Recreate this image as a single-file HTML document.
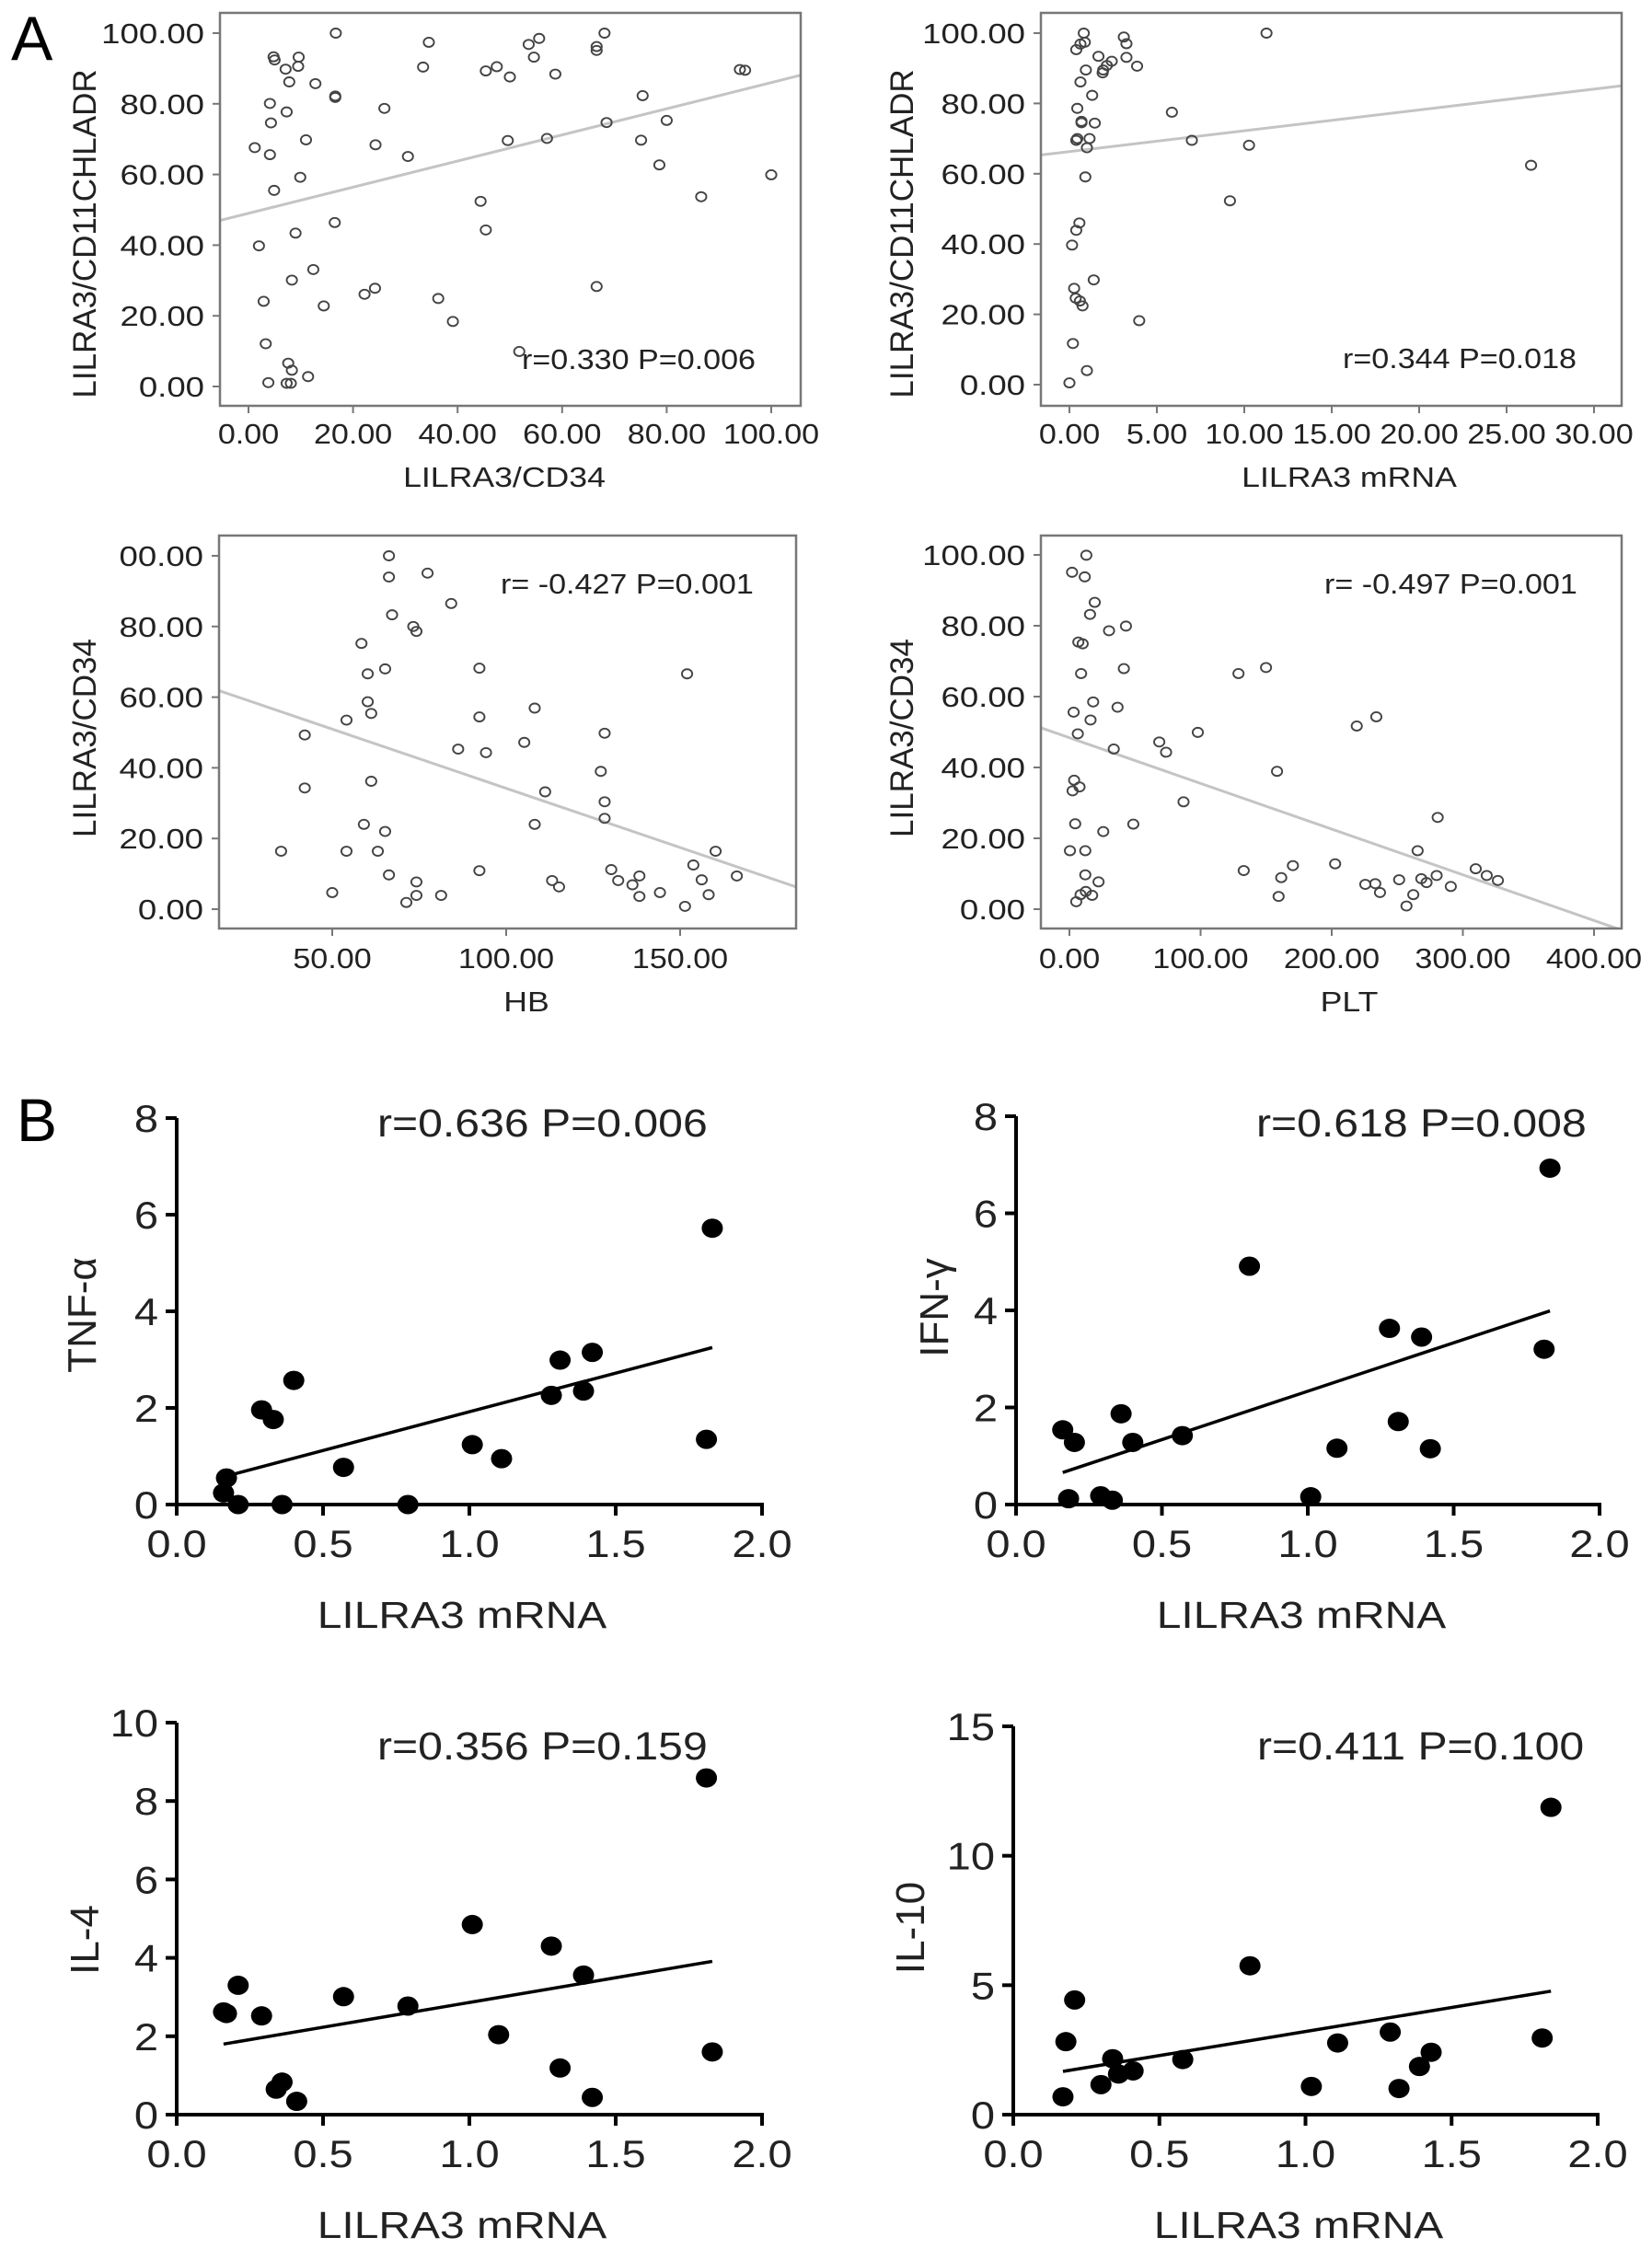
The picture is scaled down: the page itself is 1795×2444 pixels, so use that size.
<!DOCTYPE html>
<html><head><meta charset="utf-8"><style>
html,body{margin:0;padding:0;background:#fff;}
svg{display:block;font-family:"Liberation Sans",Arial,sans-serif;}
</style></head><body>
<svg id="fig" xmlns="http://www.w3.org/2000/svg" width="1795" height="2444" viewBox="0 0 1795 2444">
<rect width="1795" height="2444" fill="#fff"/>
<text transform="translate(12,65)" font-size="68">A</text>
<text transform="translate(18,1240)" font-size="66">B</text>
</svg>
<script>
// ===== Panel A1 data =====
const a1X = [1.2,2.0,2.9,3.3,3.8,4.1,4.3,4.1,4.8,5.0,4.9,7.1,7.3,7.8,7.3,8.1,7.6,8.3,8.3,9.0,9.5,9.6,9.9,11.0,11.4,12.4,12.8,14.4,16.7,16.6,16.6,16.5,22.2,24.2,24.3,26.0,30.5,33.4,34.5,36.3,39.1,44.4,45.4,45.4,47.5,49.6,50.0,51.8,53.6,54.6,55.6,57.1,58.7,66.6,66.6,68.1,68.5,66.6,75.1,75.4,78.6,80.0,86.6,94.0,95.0,100];
const a1Y = [67.6,39.8,24.1,12.1,1.1,80.1,74.6,65.6,93.3,92.4,55.5,89.8,77.7,86.2,0.9,0.9,6.6,4.6,30.1,43.4,90.6,93.2,59.2,69.8,2.8,33.1,85.7,22.8,100,82.2,81.8,46.4,26.1,27.8,68.4,78.7,65.1,90.4,97.4,24.9,18.4,52.4,89.3,44.3,90.5,69.6,87.6,9.9,96.8,93.2,98.5,70.2,88.4,96.2,95.1,100,74.7,28.3,69.7,82.3,62.7,75.3,53.7,89.7,89.5,59.9];
const a1Fit = [49.0, 0.37];
const a1XTicks = [0,20,40,60,80,100];
const a1YTicks = [0,20,40,60,80,100];
// ===== Panel A2 data =====
const a2X = [0,0.15,0.2,0.27,0.36,0.39,0.39,0.45,0.39,0.45,0.57,0.6,0.63,0.63,0.69,0.69,0.75,0.82,0.88,0.91,0.94,1.0,1.0,1.15,1.3,1.39,1.45,1.66,1.9,1.93,2.14,2.42,3.11,3.26,3.26,3.87,3.99,5.86,7.0,9.18,10.27,11.27,26.4];
const a2Y = [0.5,39.7,11.7,27.4,24.6,95.3,43.9,78.6,69.5,70.0,46.0,23.8,86.1,96.9,74.9,74.5,22.4,100,97.4,59.1,89.5,67.4,4.0,70.0,82.3,29.8,74.4,93.4,88.7,89.5,90.8,92.0,98.9,97.0,93.1,90.6,18.2,77.5,69.5,52.3,68.1,100,62.4];
const a2Fit = [66.3, 0.593];
const a2XTicks = [0,5,10,15,20,25,30];
const a2YTicks = [0,20,40,60,80,100];
// ===== Panel A3 data =====
const a3X = [35.3,42.1,42.1,50,54.1,54.1,58.4,59.1,60.2,60.2,61.2,61.2,63.1,65.2,65.2,66.3,66.3,66.3,67.2,71.3,73.3,74.2,74.2,74.2,77.4,81.3,84.2,86.2,92.3,92.3,92.3,94.2,105.2,108.2,108.2,111.2,113.2,115.2,127.2,128.3,128.3,128.3,130.2,132.2,136.3,138.3,138.3,144.2,151.4,152.0,153.8,156.2,158.2,160.2,166.3];
const a3Y = [16.4,49.3,34.3,4.7,53.5,16.4,75.2,24.0,66.6,58.7,55.4,36.2,16.4,68.0,22.0,100,94.0,9.7,83.3,1.9,80.0,78.6,7.7,3.9,95.1,3.9,86.5,45.3,68.2,54.4,10.9,44.3,47.2,56.9,24.0,33.2,8.1,6.3,39.0,49.8,30.4,25.7,11.2,8.1,6.9,9.4,3.6,4.7,0.8,66.6,12.5,8.3,4.1,16.4,9.4];
const a3Fit = [67.7, -0.335];
const a3XTicks = [50,100,150];
const a3YTicks = [0,20,40,60,80,100];
// ===== Panel A4 data =====
const a4X = [0.4,2.0,3.2,2.4,3.6,4.4,6.4,6.8,7.7,5.2,8.5,8.9,10.1,11.7,12.1,12.1,12.5,12.9,15.7,16.1,17.3,18.1,19.3,22.2,25.8,30.2,33.8,36.7,41.5,43.1,48.7,68.5,73.7,87.0,97.9,128.9,132.9,149.9,158.3,159.5,161.5,170.4,202.6,219.1,225.6,233.2,234.0,236.8,251.4,257.0,262.2,265.5,268.3,272.3,280.0,280.8,290.8,309.8,318.2,326.7];
const a4Y = [16.5,95.1,55.6,33.4,36.4,24.1,49.5,75.4,34.5,2.1,4.1,66.5,74.9,93.8,16.5,9.7,5.0,99.9,83.2,53.4,3.9,58.5,86.6,7.7,21.9,78.6,45.2,57.0,67.9,79.9,24.0,47.2,44.3,30.3,49.9,66.5,10.9,68.2,38.9,3.6,8.9,12.3,12.8,51.7,7.0,7.2,54.3,4.7,8.3,0.9,4.1,16.5,8.6,7.5,9.5,25.9,6.4,11.4,9.5,8.1];
const a4Fit = [48.4, -0.129];
const a4XTicks = [0,100,200,300,400];
const a4YTicks = [0,20,40,60,80,100];
// ===== Panel B data =====
const b1X = [0.16,0.17,0.21,0.29,0.33,0.40,0.36,0.57,0.79,1.01,1.11,1.28,1.31,1.39,1.42,1.81,1.83];
const b1Y = [0.24,0.55,0,1.96,1.76,2.57,0,0.77,0,1.24,0.95,2.26,2.99,2.35,3.15,1.35,5.72];
const b1Fit = [0.17,0.59,1.83,3.25];
const b2X = [0.16,0.18,0.20,0.29,0.33,0.36,0.40,0.57,0.80,1.01,1.10,1.28,1.31,1.39,1.42,1.81,1.83];
const b2Y = [1.54,0.12,1.28,0.18,0.09,1.87,1.28,1.42,4.91,0.16,1.16,3.63,1.71,3.45,1.15,3.2,6.93];
const b2Fit = [0.16,0.66,1.83,3.99];
const b3X = [0.16,0.17,0.21,0.29,0.34,0.36,0.41,0.57,0.79,1.01,1.10,1.28,1.31,1.39,1.42,1.81,1.83];
const b3Y = [2.62,2.58,3.30,2.52,0.65,0.83,0.34,3.01,2.77,4.85,2.04,4.30,1.19,3.56,0.44,8.59,1.60];
const b3Fit = [0.16,1.80,1.83,3.91];
const b4X = [0.17,0.18,0.21,0.30,0.34,0.36,0.41,0.58,0.81,1.02,1.11,1.29,1.32,1.39,1.43,1.81,1.84];
const b4Y = [0.69,2.82,4.43,1.16,2.16,1.57,1.69,2.13,5.75,1.09,2.77,3.19,1.01,1.86,2.41,2.96,11.87];
const b4Fit = [0.17,1.67,1.84,4.77];
const bXTicks = [0,0.5,1.0,1.5,2.0];
const b1YTicks = [0,2,4,6,8];
const b3YTicks = [0,2,4,6,8,10];
const b4YTicks = [0,5,10,15];

const NS = "http://www.w3.org/2000/svg";
const svg = document.getElementById('fig');
function mk(tag, attrs, parent){
  const e = document.createElementNS(NS, tag);
  for (const k in attrs) e.setAttribute(k, attrs[k]);
  (parent||svg).appendChild(e);
  return e;
}
function txt(s, x, y, size, anchor, sx, rot, parent){
  let tr = 'translate(' + x + ',' + y + ')';
  if (rot) tr += ' rotate(' + rot + ')';
  if (sx && sx !== 1) tr += ' scale(' + sx + ',1)';
  const t = mk('text', {transform: tr, 'font-size': size, 'text-anchor': anchor || 'start', fill: '#222'}, parent);
  t.textContent = s;
  return t;
}
function lin(v0, p0, v1, p1){ return v => p0 + (v - v0) * (p1 - p0) / (v1 - v0); }

let clipId = 0;
function panelA(c){
  const g = mk('g', {});
  
  
  const sx = lin(c.xs[0], c.xs[1], c.xs[2], c.xs[3]);
  const sy = lin(c.ys[0], c.ys[1], c.ys[2], c.ys[3]);
  const [L, T, R, B] = c.box;
  const id = 'clip' + (clipId++);
  const cp = mk('clipPath', {id: id}, g);
  mk('rect', {x: L, y: T, width: R - L, height: B - T}, cp);
  const xl = (L - c.xs[1]) / (c.xs[3] - c.xs[1]) * (c.xs[2] - c.xs[0]) + c.xs[0];
  const xr = (R - c.xs[1]) / (c.xs[3] - c.xs[1]) * (c.xs[2] - c.xs[0]) + c.xs[0];
  const fl = mk('line', {x1: sx(xl), y1: sy(c.fit[0] + c.fit[1] * xl), x2: sx(xr), y2: sy(c.fit[0] + c.fit[1] * xr), stroke: '#c4c4c4', 'stroke-width': 3, 'clip-path': 'url(#' + id + ')'}, g);
  
  
  for (let i = 0; i < c.px.length; i++){
    const p = mk('ellipse', {cx: sx(c.px[i]), cy: sy(c.py[i]), rx: 5.6, ry: 5, fill: 'none', stroke: '#444', 'stroke-width': 1.9}, g);
    
    
  }
  const bx = mk('rect', {x: L, y: T, width: R - L, height: B - T, fill: 'none', stroke: '#777', 'stroke-width': 2.5}, g);
  
  
  c.yt.forEach((v, i) => {
    mk('line', {x1: L - 8, y1: sy(v), x2: L, y2: sy(v), stroke: '#777', 'stroke-width': 2}, g);
    const lab = c.ytl ? c.ytl[i] : v.toFixed(2);
    const t = txt(lab, L - 17, sy(v) + 11, 31, 'end', 1.18, 0, g);
    
    
  });
  c.xt.forEach(v => {
    mk('line', {x1: sx(v), y1: B, x2: sx(v), y2: B + 8, stroke: '#777', 'stroke-width': 2}, g);
    const t = txt(v.toFixed(2), sx(v), c.xtY, 31, 'middle', 1.1, 0, g);
    
    
  });
  const xt = txt(c.xlab, c.xlabX, c.xlabY, 31, 'middle', 1.15, 0, g);
  
  
  const yt = txt(c.ylab, c.ylabX, c.ylabY, 35, 'middle', 1, -90, g);
  
  
  const st = txt(c.stat, c.statX, c.statY, 31, 'start', 1.1, 0, g);
  
  
}

panelA({name:'panel-a1', box:[239,14,870,441], xs:[0,270,100,838], ys:[0,420,100,36], px:a1X, py:a1Y, fit:a1Fit, xt:a1XTicks, yt:a1YTicks, xtY:482, xlab:'LILRA3/CD34', xlabX:548, xlabY:529, ylab:'LILRA3/CD11CHLADR', ylabX:104, ylabY:254, stat:'r=0.330 P=0.006', statX:567, statY:401});
panelA({name:'panel-a2', box:[1131,14,1762,441], xs:[0,1162,30,1732], ys:[0,418,100,36], px:a2X, py:a2Y, fit:a2Fit, xt:a2XTicks, yt:a2YTicks, xtY:482, xlab:'LILRA3 mRNA', xlabX:1466, xlabY:529, ylab:'LILRA3/CD11CHLADR', ylabX:992, ylabY:254, stat:'r=0.344 P=0.018', statX:1459, statY:400});
panelA({name:'panel-a3', box:[238,582,865,1009], xs:[50,361,150,739], ys:[0,988,100,604], px:a3X, py:a3Y, fit:a3Fit, xt:a3XTicks, yt:a3YTicks, ytl:['0.00','20.00','40.00','60.00','80.00','00.00'], xtY:1052, xlab:'HB', xlabX:572, xlabY:1099, ylab:'LILRA3/CD34', ylabX:104, ylabY:802, stat:'r= -0.427 P=0.001', statX:544, statY:645});
panelA({name:'panel-a4', box:[1131,582,1762,1009], xs:[0,1162,400,1732], ys:[0,988,100,603], px:a4X, py:a4Y, fit:a4Fit, xt:a4XTicks, yt:a4YTicks, xtY:1052, xlab:'PLT', xlabX:1466, xlabY:1099, ylab:'LILRA3/CD34', ylabX:992, ylabY:802, stat:'r= -0.497 P=0.001', statX:1439, statY:645});

function panelB(c){
  const g = mk('g', {});
  
  
  const sx = lin(0, c.ax, 2, c.x2);
  const sy = lin(0, c.y0, c.ytop, c.ytopPx);
  const ya = mk('line', {x1: c.ax, y1: c.ytopPx, x2: c.ax, y2: c.y0 + 12, stroke: '#000', 'stroke-width': 4}, g);
  
  
  const xa = mk('line', {x1: c.ax - 12, y1: c.y0, x2: c.x2 + 2, y2: c.y0, stroke: '#000', 'stroke-width': 4}, g);
  
  
  c.yt.forEach(v => {
    mk('line', {x1: c.ax - 12, y1: sy(v), x2: c.ax, y2: sy(v), stroke: '#000', 'stroke-width': 4}, g);
    const t = txt(String(v), c.ax - 20, sy(v) + 15, 42, 'end', 1.12, 0, g);
    
    
  });
  bXTicks.forEach(v => {
    mk('line', {x1: sx(v), y1: c.y0, x2: sx(v), y2: c.y0 + 12, stroke: '#000', 'stroke-width': 4}, g);
    const t = txt(v.toFixed(1), sx(v), c.y0 + 57, 42, 'middle', 1.12, 0, g);
    
    
  });
  const f = c.fit;
  const fl = mk('line', {x1: sx(f[0]), y1: sy(f[1]), x2: sx(f[2]), y2: sy(f[3]), stroke: '#000', 'stroke-width': 3.5}, g);
  
  
  for (let i = 0; i < c.px.length; i++){
    const p = mk('ellipse', {cx: sx(c.px[i]), cy: sy(c.py[i]), rx: 11.5, ry: 10.5, fill: '#000'}, g);
    
    
  }
  const xt = txt('LILRA3 mRNA', c.ax + 310, c.y0 + 134, 41, 'middle', 1.17, 0, g);
  
  
  const yt = txt(c.ylab, c.ylabX, c.ylabY, 44, 'middle', 1, -90, g);
  
  
  const st = txt(c.stat, c.statX, c.statY, 43, 'start', 1.12, 0, g);
  
  
}

panelB({name:'panel-b1', ax:192, x2:828, y0:1635, ytop:8, ytopPx:1215, yt:b1YTicks, px:b1X, py:b1Y, fit:b1Fit, ylab:'TNF-α', ylabX:104, ylabY:1429, stat:'r=0.636 P=0.006', statX:410, statY:1235});
panelB({name:'panel-b2', ax:1104, x2:1738, y0:1635, ytop:8, ytopPx:1213, yt:b1YTicks, px:b2X, py:b2Y, fit:b2Fit, ylab:'IFN-γ', ylabX:1030, ylabY:1421, stat:'r=0.618 P=0.008', statX:1365, statY:1235});
panelB({name:'panel-b3', ax:192, x2:828, y0:2298, ytop:10, ytopPx:1872, yt:b3YTicks, px:b3X, py:b3Y, fit:b3Fit, ylab:'IL-4', ylabX:107, ylabY:2108, stat:'r=0.356 P=0.159', statX:410, statY:1912});
panelB({name:'panel-b4', ax:1101, x2:1736, y0:2298, ytop:15, ytopPx:1876, yt:b4YTicks, px:b4X, py:b4Y, fit:b4Fit, ylab:'IL-10', ylabX:1004, ylabY:2095, stat:'r=0.411 P=0.100', statX:1366, statY:1912});
</script>
</body></html>
